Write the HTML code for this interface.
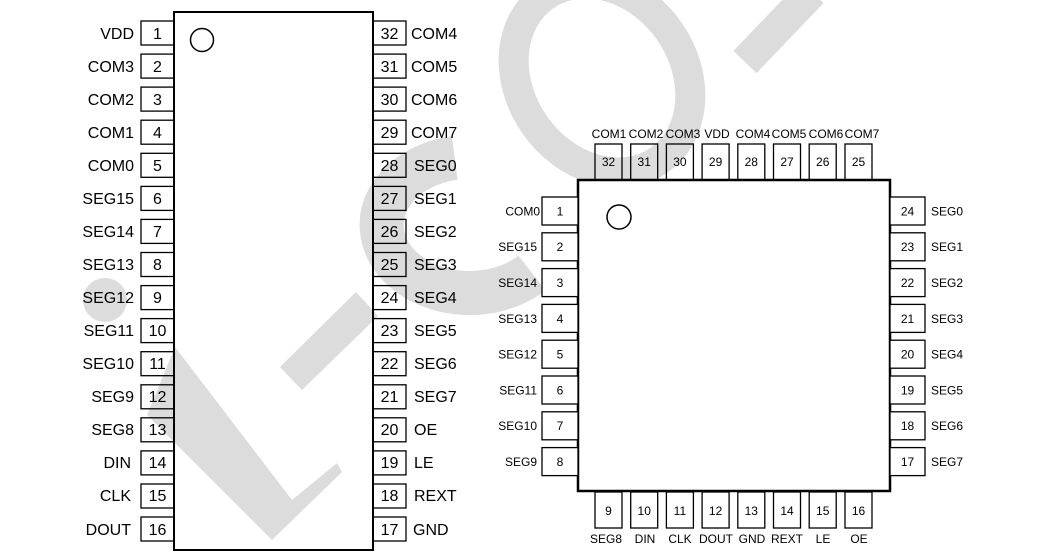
<!DOCTYPE html>
<html><head><meta charset="utf-8"><style>
html,body{margin:0;padding:0;background:#fff;width:1053px;height:560px;overflow:hidden}
svg{display:block}
text{font-family:"Liberation Sans",Arial,sans-serif;fill:#000}
.l{font-size:16px}
.s{font-size:12px}
</style></head><body>
<svg width="1053" height="560" viewBox="0 0 1053 560" xmlns="http://www.w3.org/2000/svg">
<!-- watermark -->
<g fill="#dcdcdc" stroke="none">
<circle cx="105" cy="300" r="22"/>
<polygon points="147,415 175,347 292,500 337,463 342,472 272,540"/>
<polygon points="280,367 302,390 378,316 356,292"/>
</g>
<g fill="none" stroke="#dcdcdc">
<path d="M454.7,158 A88,68 0 1 0 532,273" stroke-width="44"/>
<ellipse cx="602" cy="78" rx="82" ry="100" transform="rotate(-35 602 78)" stroke-width="30"/>
<line x1="745" y1="62" x2="812" y2="-8" stroke-width="32"/>
</g>
<g fill="none" stroke="#000">
<!-- left chip -->
<rect x="174" y="12" width="199" height="538" stroke-width="2"/>
<circle cx="202" cy="40" r="11.5" stroke-width="1.5"/>
<g stroke-width="1.3">
<rect x="141" y="21" width="33" height="24"/><rect x="141" y="54.1" width="33" height="24"/><rect x="141" y="87.1" width="33" height="24"/><rect x="141" y="120.2" width="33" height="24"/><rect x="141" y="153.3" width="33" height="24"/><rect x="141" y="186.4" width="33" height="24"/><rect x="141" y="219.4" width="33" height="24"/><rect x="141" y="252.5" width="33" height="24"/><rect x="141" y="285.6" width="33" height="24"/><rect x="141" y="318.6" width="33" height="24"/><rect x="141" y="351.7" width="33" height="24"/><rect x="141" y="384.8" width="33" height="24"/><rect x="141" y="417.8" width="33" height="24"/><rect x="141" y="450.9" width="33" height="24"/><rect x="141" y="484" width="33" height="24"/><rect x="141" y="517" width="33" height="24"/>
<rect x="373" y="21" width="33" height="24"/><rect x="373" y="54.1" width="33" height="24"/><rect x="373" y="87.1" width="33" height="24"/><rect x="373" y="120.2" width="33" height="24"/><rect x="373" y="153.3" width="33" height="24"/><rect x="373" y="186.4" width="33" height="24"/><rect x="373" y="219.4" width="33" height="24"/><rect x="373" y="252.5" width="33" height="24"/><rect x="373" y="285.6" width="33" height="24"/><rect x="373" y="318.6" width="33" height="24"/><rect x="373" y="351.7" width="33" height="24"/><rect x="373" y="384.8" width="33" height="24"/><rect x="373" y="417.8" width="33" height="24"/><rect x="373" y="450.9" width="33" height="24"/><rect x="373" y="484" width="33" height="24"/><rect x="373" y="517" width="33" height="24"/>
</g>
<!-- right chip -->
<rect x="578" y="180" width="312" height="311" stroke-width="2.5" fill="#fff"/>
<circle cx="619" cy="217" r="12" stroke-width="1.5"/>
<g stroke-width="1.3" fill="#fff">
<rect x="542" y="197" width="36" height="28"/><rect x="542" y="232.8" width="36" height="28"/><rect x="542" y="268.6" width="36" height="28"/><rect x="542" y="304.4" width="36" height="28"/><rect x="542" y="340.2" width="36" height="28"/><rect x="542" y="376" width="36" height="28"/><rect x="542" y="411.8" width="36" height="28"/><rect x="542" y="447.6" width="36" height="28"/>
<rect x="890" y="197" width="35" height="28"/><rect x="890" y="232.8" width="35" height="28"/><rect x="890" y="268.6" width="35" height="28"/><rect x="890" y="304.4" width="35" height="28"/><rect x="890" y="340.2" width="35" height="28"/><rect x="890" y="376" width="35" height="28"/><rect x="890" y="411.8" width="35" height="28"/><rect x="890" y="447.6" width="35" height="28"/>
</g>
<g stroke-width="1.3">
<rect x="595" y="144" width="27" height="36"/><rect x="630.7" y="144" width="27" height="36"/><rect x="666.4" y="144" width="27" height="36"/><rect x="702.1" y="144" width="27" height="36"/><rect x="737.8" y="144" width="27" height="36"/><rect x="773.5" y="144" width="27" height="36"/><rect x="809.2" y="144" width="27" height="36"/><rect x="845" y="144" width="27" height="36"/>
<rect x="595" y="492" width="27" height="36"/><rect x="630.7" y="492" width="27" height="36"/><rect x="666.4" y="492" width="27" height="36"/><rect x="702.1" y="492" width="27" height="36"/><rect x="737.8" y="492" width="27" height="36"/><rect x="773.5" y="492" width="27" height="36"/><rect x="809.2" y="492" width="27" height="36"/><rect x="845" y="492" width="27" height="36"/>
</g>
</g>
<!-- left chip text -->
<g class="l" text-anchor="end">
<text x="134" y="39">VDD</text><text x="134" y="72">COM3</text><text x="134" y="105">COM2</text><text x="134" y="138">COM1</text><text x="134" y="171">COM0</text><text x="134" y="204">SEG15</text><text x="134" y="237">SEG14</text><text x="134" y="270">SEG13</text><text x="134" y="303">SEG12</text><text x="134" y="336">SEG11</text><text x="134" y="369">SEG10</text><text x="134" y="402">SEG9</text><text x="134" y="435">SEG8</text><text x="131" y="468">DIN</text><text x="131" y="501">CLK</text><text x="131" y="535">DOUT</text>
</g>
<g class="l" text-anchor="middle">
<text x="157.5" y="39">1</text><text x="157.5" y="72">2</text><text x="157.5" y="105">3</text><text x="157.5" y="138">4</text><text x="157.5" y="171">5</text><text x="157.5" y="204">6</text><text x="157.5" y="237">7</text><text x="157.5" y="270">8</text><text x="157.5" y="303">9</text><text x="157.5" y="336">10</text><text x="157.5" y="369">11</text><text x="157.5" y="402">12</text><text x="157.5" y="435">13</text><text x="157.5" y="468">14</text><text x="157.5" y="501">15</text><text x="157.5" y="535">16</text>
<text x="389.5" y="39">32</text><text x="389.5" y="72">31</text><text x="389.5" y="105">30</text><text x="389.5" y="138">29</text><text x="389.5" y="171">28</text><text x="389.5" y="204">27</text><text x="389.5" y="237">26</text><text x="389.5" y="270">25</text><text x="389.5" y="303">24</text><text x="389.5" y="336">23</text><text x="389.5" y="369">22</text><text x="389.5" y="402">21</text><text x="389.5" y="435">20</text><text x="389.5" y="468">19</text><text x="389.5" y="501">18</text><text x="389.5" y="535">17</text>
</g>
<g class="l">
<text x="411" y="39">COM4</text><text x="411" y="72">COM5</text><text x="411" y="105">COM6</text><text x="411" y="138">COM7</text><text x="414" y="171">SEG0</text><text x="414" y="204">SEG1</text><text x="414" y="237">SEG2</text><text x="414" y="270">SEG3</text><text x="414" y="303">SEG4</text><text x="414" y="336">SEG5</text><text x="414" y="369">SEG6</text><text x="414" y="402">SEG7</text><text x="414" y="435">OE</text><text x="414" y="468">LE</text><text x="414" y="501">REXT</text><text x="413" y="535">GND</text>
</g>
<!-- right chip text -->
<g class="s" text-anchor="end">
<text x="540" y="215.5">COM0</text><text x="537" y="251">SEG15</text><text x="537" y="287">SEG14</text><text x="537" y="323">SEG13</text><text x="537" y="358.5">SEG12</text><text x="537" y="394.5">SEG11</text><text x="537" y="430">SEG10</text><text x="537" y="466">SEG9</text>
</g>
<g class="s" text-anchor="middle">
<text x="560" y="215.5">1</text><text x="560" y="251">2</text><text x="560" y="287">3</text><text x="560" y="323">4</text><text x="560" y="358.5">5</text><text x="560" y="394.5">6</text><text x="560" y="430">7</text><text x="560" y="466">8</text>
<text x="907.5" y="215.5">24</text><text x="907.5" y="251">23</text><text x="907.5" y="287">22</text><text x="907.5" y="323">21</text><text x="907.5" y="358.5">20</text><text x="907.5" y="394.5">19</text><text x="907.5" y="430">18</text><text x="907.5" y="466">17</text>
<text x="608.5" y="166">32</text><text x="644.2" y="166">31</text><text x="679.9" y="166">30</text><text x="715.6" y="166">29</text><text x="751.3" y="166">28</text><text x="787" y="166">27</text><text x="822.7" y="166">26</text><text x="858.5" y="166">25</text>
<text x="608.5" y="515">9</text><text x="644.2" y="515">10</text><text x="679.9" y="515">11</text><text x="715.6" y="515">12</text><text x="751.3" y="515">13</text><text x="787" y="515">14</text><text x="822.7" y="515">15</text><text x="858.5" y="515">16</text>
<text x="609" y="138">COM1</text><text x="646" y="138">COM2</text><text x="683" y="138">COM3</text><text x="717" y="138">VDD</text><text x="753" y="138">COM4</text><text x="789" y="138">COM5</text><text x="826" y="138">COM6</text><text x="862" y="138">COM7</text>
<text x="606" y="543">SEG8</text><text x="645" y="543">DIN</text><text x="680" y="543">CLK</text><text x="716" y="543">DOUT</text><text x="752" y="543">GND</text><text x="787" y="543">REXT</text><text x="823" y="543">LE</text><text x="859" y="543">OE</text>
</g>
<g class="s">
<text x="931" y="215.5">SEG0</text><text x="931" y="251">SEG1</text><text x="931" y="287">SEG2</text><text x="931" y="323">SEG3</text><text x="931" y="358.5">SEG4</text><text x="931" y="394.5">SEG5</text><text x="931" y="430">SEG6</text><text x="931" y="466">SEG7</text>
</g>
</svg>
</body></html>
